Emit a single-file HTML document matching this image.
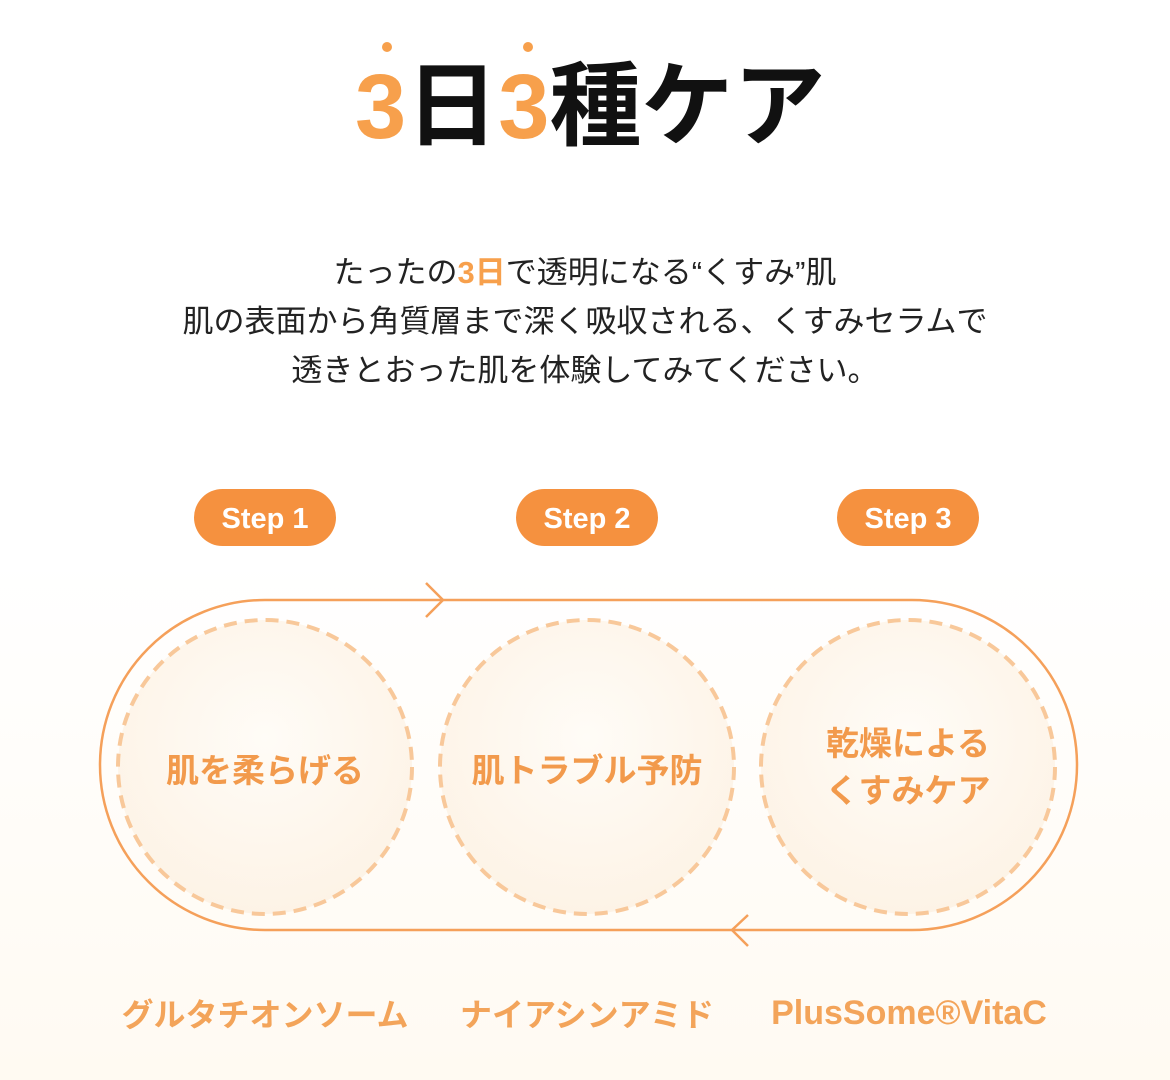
<!DOCTYPE html>
<html><head><meta charset="utf-8"><style>
html,body{margin:0;padding:0}
body{width:1170px;height:1080px;position:relative;overflow:hidden;background:linear-gradient(#fff 0,#fff 560px,#fffaf2 1080px);font-family:"Liberation Sans","Noto Sans CJK JP",sans-serif}
.t{position:absolute;white-space:nowrap}
</style></head><body>
<svg width="1170" height="1080" style="position:absolute;left:0;top:0">
<defs><radialGradient id="g" cx="50%" cy="40%" r="60%"><stop offset="0" stop-color="#fffcf7"/><stop offset="1" stop-color="#fdf3e6"/></radialGradient></defs>
<circle cx="387" cy="47" r="5" fill="#f7a04c"/>
<circle cx="528" cy="47" r="5" fill="#f7a04c"/>
<g fill="#f5913f">
<rect x="194" y="489" width="142" height="57" rx="28.5"/>
<rect x="516" y="489" width="142" height="57" rx="28.5"/>
<rect x="837" y="489" width="142" height="57" rx="28.5"/>
</g>
<g font-family="Liberation Sans,sans-serif" font-weight="bold" font-size="29" fill="#fff" text-anchor="middle">
<text x="265" y="528">Step 1</text><text x="587" y="528">Step 2</text><text x="908" y="528">Step 3</text>
</g>
<path d="M265 600 H912 A165 165 0 0 1 912 930 H265 A165 165 0 0 1 265 600 Z" fill="none" stroke="#f5a05a" stroke-width="2.5"/>
<path d="M426 583 L443 600 L426 617" fill="none" stroke="#f5a05a" stroke-width="2.5"/>
<path d="M748 915 L732 930 L748 946" fill="none" stroke="#f5a05a" stroke-width="2.5"/>
<g fill="url(#g)" stroke="#f8c89a" stroke-width="4" stroke-dasharray="13 8">
<circle cx="265" cy="767" r="147"/><circle cx="587" cy="767" r="147"/><circle cx="908" cy="767" r="147"/>
</g>
<text x="909" y="1024" text-anchor="middle" font-family="Liberation Sans,sans-serif" font-weight="bold" font-size="34" fill="#f3a45a">PlusSome®VitaC</text>
</svg>
<div class="t" style="left:355px;top:52px;font-size:92px;font-weight:bold;line-height:110px;color:#111"><span style="color:#f7a04c">3</span>日<span style="color:#f7a04c">3</span>種ケア</div>
<div class="t" style="left:0;width:1170px;top:248px;text-align:center;font-size:31px;line-height:49px;color:#222">たったの<b style="color:#f7a04c">3日</b>で透明になる“くすみ”肌<br>肌の表面から角質層まで深く吸収される、くすみセラムで<br>透きとおった肌を体験してみてください。</div>
<div class="t" style="left:115px;width:300px;top:744px;text-align:center;font-size:33px;font-weight:bold;color:#f29a4c">肌を柔らげる</div>
<div class="t" style="left:437px;width:300px;top:744px;text-align:center;font-size:33px;font-weight:bold;color:#f29a4c">肌トラブル予防</div>
<div class="t" style="left:758px;width:300px;top:720px;text-align:center;font-size:33px;font-weight:bold;line-height:47px;color:#f29a4c">乾燥による<br>くすみケア</div>
<div class="t" style="left:100px;width:330px;top:990px;text-align:center;font-size:32px;font-weight:bold;color:#f3a45a">グルタチオンソーム</div>
<div class="t" style="left:422px;width:330px;top:990px;text-align:center;font-size:32px;font-weight:bold;color:#f3a45a">ナイアシンアミド</div>
</body></html>
